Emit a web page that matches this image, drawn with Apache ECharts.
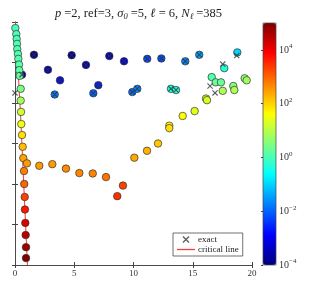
<!DOCTYPE html>
<html><head><meta charset="utf-8">
<script src="https://cdn.jsdelivr.net/npm/echarts@6/dist/echarts.min.js"></script>
<style>html,body{margin:0;padding:0;background:#fff}#c{width:313px;height:285px}</style>
</head><body><div id="c"></div>
<script>
// eigenvalue points: x, y, log10 of colour quantity
const ptsX = [0.59,1.60,2.78,3.80,3.35,4.78,5.99,6.61,7.03,7.96,9.20,9.90,10.32,11.16,12.35,14.37,15.55,18.76,13.16,13.59,
  0.03,0.11,0.14,0.17,0.19,0.25,0.28,0.34,0.36,0.40,0.48,0.48,0.51,0.53,0.59,0.65,0.70,0.76,0.78,0.82,0.84,0.87,0.90,0.93,0.93,
  17.66,16.60,16.94,17.38,17.53,18.42,18.51,19.38,19.55,
  16.12,16.20,15.16,14.15,13.02,13.02,12.07,11.14,10.07,
  1.01,2.05,3.15,4.30,5.43,6.56,7.68,9.11,8.63];
const ptsY = [4.70,5.19,4.82,4.56,4.21,5.18,4.94,4.24,4.44,5.16,5.03,4.27,4.35,5.09,5.10,5.03,5.19,5.25,4.35,4.32,
  5.85,5.70,5.58,5.46,5.33,5.21,5.09,4.95,4.81,4.67,4.35,4.06,3.78,3.48,3.21,2.92,2.64,2.32,2.00,1.68,1.37,1.04,0.74,0.44,0.17,
  4.86,4.64,4.51,4.51,4.30,4.42,4.32,4.61,4.56,
  4.11,4.07,3.80,3.68,3.44,3.38,3.00,2.82,2.65,
  2.51,2.45,2.49,2.38,2.27,2.26,2.17,1.96,1.70];
const ptsLog = [-3.7,-3.8,-3.4,-2.8,-1.8,-3.7,-3.4,-2.0,-2.6,-3.4,-3.0,-1.9,-1.7,-2.2,-2.2,-1.7,-1.5,-1.0,-0.4,-0.3,
  0.0,0.0,0.05,0.05,0.1,0.1,0.1,0.15,0.15,0.2,0.4,0.8,1.2,1.5,1.9,2.2,2.45,2.75,3.0,3.3,3.7,4.2,4.5,4.75,5.0,
  -0.3,0.1,0.3,0.3,0.9,0.5,0.9,0.6,0.8,
  1.2,1.3,1.4,1.6,1.7,1.9,2.1,2.3,2.4,
  2.5,2.5,2.5,2.65,2.7,2.7,2.85,3.3,3.45];
// exact values
const exactX = [0.59,1.60,2.78,3.80,3.35,4.78,5.99,6.61,7.03,7.96,9.20,9.90,10.32,11.16,12.35,14.37,15.55,18.71,13.16,13.59,0.0,17.53,16.46,16.88];
const exactY = [4.70,5.19,4.82,4.56,4.21,5.18,4.94,4.24,4.44,5.16,5.03,4.27,4.35,5.09,5.10,5.03,5.19,5.17,4.35,4.32,4.25,4.96,4.42,4.25];
// critical line
const criticalX = [0.04,0.48,1.05];
const criticalY = [6,3.63,0];
const xTicks = [0,5,10,15,20];
const cbTicks = [-4,-2,0,2,4];

const jet = ['#00007F','#0000FF','#007FFF','#00FFFF','#7FFF7F','#FFFF00','#FF7F00','#FF0000','#7F0000'];
const serif = 'Liberation Serif';
const axisCol = '#444';
const redLine = '#f23a3a';
const crossPath = 'path://M0,1.3L1.3,0L10,8.7L8.7,10Z M8.7,0L10,1.3L1.3,10L0,8.7Z';
const lineIcon = 'path://M0,0L20,0L20,1.4L0,1.4Z';

const chart = echarts.init(document.getElementById('c'), null, {renderer:'canvas'});
const sup = (v) => '{b|10}{s|' + (v < 0 ? '\u2212' + (-v) : v) + '}';
chart.setOption({
  animation:false,
  backgroundColor:'#fff',
  title:{
    text:'{i|p} =2, ref=3, {i|\u03c3}{sb|0} =5, {i|\u2113} = 6, {i|N}{sb|\u2113} =385',
    left:133.5, textAlign:'center', top:2,
    textStyle:{fontFamily:serif, fontSize:12.5, fontWeight:'normal', color:'#222',
      rich:{i:{fontFamily:serif,fontStyle:'italic',fontSize:12.5,color:'#222'},
            sb:{fontFamily:serif,fontStyle:'italic',fontSize:8.5,color:'#222',padding:[5,0,0,0]}}}
  },
  grid:[
    {left:15, top:22, width:237, height:243},
    {left:263, top:23, width:13, height:242, show:true, z:10, borderColor:axisCol, borderWidth:0.7, backgroundColor:'transparent'}
  ],
  xAxis:[
    {gridIndex:0, type:'value', min:0, max:20, interval:5, position:'bottom',
     axisLine:{lineStyle:{color:axisCol,width:0.8}}, axisTick:{inside:true,length:3,lineStyle:{color:axisCol}},
     axisLabel:{color:'#333',fontFamily:serif,fontSize:9,margin:4, formatter:v=>xTicks.includes(v)?String(v):''}, splitLine:{show:false}},
    {gridIndex:0, type:'value', min:0, max:20, interval:5, position:'top',
     axisLine:{lineStyle:{color:axisCol,width:0.8}}, axisTick:{inside:true,length:3,lineStyle:{color:axisCol}},
     axisLabel:{show:false}, splitLine:{show:false}},
    {gridIndex:1, type:'value', min:0, max:1, show:false}
  ],
  yAxis:[
    {gridIndex:0, type:'value', min:0, max:6, interval:1, position:'left',
     axisLine:{lineStyle:{color:axisCol,width:0.8}}, axisTick:{inside:true,length:3,lineStyle:{color:axisCol}},
     axisLabel:{show:false}, splitLine:{show:false}},
    {gridIndex:0, type:'value', min:0, max:6, interval:1, position:'right',
     axisLine:{lineStyle:{color:axisCol,width:0.8}}, axisTick:{inside:true,length:3,lineStyle:{color:axisCol}},
     axisLabel:{show:false}, splitLine:{show:false}},
    {gridIndex:1, type:'value', min:-4, max:5, interval:2, position:'right', z:10,
     axisLine:{show:false}, axisTick:{inside:true,length:2,lineStyle:{color:axisCol}},
     axisLabel:{showMaxLabel:false, margin:3, color:'#333', fontFamily:serif, fontSize:10,
       formatter:v=>cbTicks.includes(v)?sup(v):'',
       rich:{b:{fontFamily:serif,fontSize:10,color:'#333'}, s:{fontFamily:serif,fontSize:7,color:'#333',padding:[0,0,7,0]}}},
     splitLine:{show:false}}
  ],
  visualMap:{
    type:'continuous', min:-4, max:5, dimension:2, seriesIndex:1,
    inRange:{color:jet}, calculable:false, orient:'vertical',
    left:263, top:23, itemWidth:13, itemHeight:242, padding:0, text:null, z:4
  },
  legend:{
    left:173, top:233, orient:'vertical', padding:[2,4,2,4], itemGap:1, itemWidth:18, itemHeight:7,
    backgroundColor:'#fff', borderColor:'#333', borderWidth:0.7, borderRadius:0,
    textStyle:{fontFamily:serif,fontSize:9,color:'#222',padding:[0,0,0,-2]},
    data:[{name:'exact'},{name:'critical line', icon:lineIcon, itemStyle:{color:redLine, borderColor:redLine, borderWidth:0}}]
  },
  series:[
    {name:'critical line', type:'line', xAxisIndex:0, yAxisIndex:0, showSymbol:false, symbol:'none',
     lineStyle:{color:redLine, width:1}, itemStyle:{color:redLine},
     data:criticalX.map((x,i)=>[x,criticalY[i]]), z:1},
    {name:'points', type:'scatter', xAxisIndex:0, yAxisIndex:0, symbol:'circle', symbolSize:7.5,
     itemStyle:{borderColor:'#333', borderWidth:0.7, opacity:1},
     data:ptsX.map((x,i)=>[x,ptsY[i],ptsLog[i]]), z:2},
    {name:'exact', type:'scatter', xAxisIndex:0, yAxisIndex:0, symbol:crossPath, symbolSize:6, symbolKeepAspect:true,
     itemStyle:{color:'#333'}, data:exactX.map((x,i)=>[x,exactY[i]]), z:3}
  ]
});
</script></body></html>
